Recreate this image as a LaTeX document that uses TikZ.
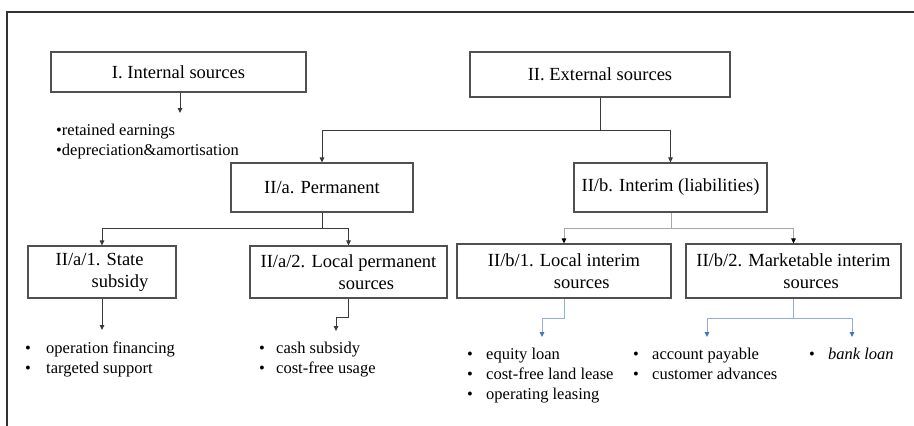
\documentclass[tikz,border=0pt]{standalone}
\usepackage{fontspec}
\setmainfont{Liberation Serif}
\usetikzlibrary{arrows.meta}
\definecolor{frameline}{HTML}{333333}
\definecolor{boxline}{HTML}{505050}
\definecolor{darkline}{HTML}{3A3A3A}
\definecolor{greyline}{HTML}{A8A8A8}
\definecolor{blueline}{HTML}{94ACDA}
\definecolor{bluehead}{HTML}{4472C4}
\newcommand\bulletgap[1]{\makebox[#1][l]{•}}

\begin{document}
\begin{tikzpicture}[x=1pt,y=-1pt,
  box/.style={draw=boxline, line width=1.1pt, inner sep=0pt, align=left,
    font=\fontsize{18.5}{22}\selectfont},
  link/.style={draw=darkline, line width=0.9pt},
  linktip/.style={link, -{Triangle[length=5pt,width=4.5pt]}},
  greylink/.style={draw=greyline, line width=0.9pt},
  greytip/.style={greylink, -{Triangle[length=5pt,width=4.5pt,color=black]}},
  bluelink/.style={draw=blueline, line width=0.9pt},
  bluetip/.style={bluelink, -{Triangle[length=5pt,width=4.5pt,color=bluehead]}},
  listitem/.style={anchor=base west, inner sep=0pt, font=\fontsize{16.5}{20}\selectfont}
]
\useasboundingbox (0,0) rectangle (914,426);

% outer frame (open to the right and bottom)
\draw[frameline, line width=1.6pt] (7,430) -- (7,12) -- (918,12);

% boxes
\node[box, minimum width=255pt, minimum height=40pt] (int) at (178.5,72) {I. Internal sources};
\node[box, minimum width=260pt, minimum height=45pt] (ext) at (600,74.5) {II. External sources};
\node[box, minimum width=182pt, minimum height=49pt] (perm) at (322,187.5) {II/a. Permanent};
\node[box, minimum width=193pt, minimum height=49pt] (interim) at (670.5,187.5) {II/b. Interim (liabilities)};
\node[box, minimum width=148pt, minimum height=52pt] (a1) at (102,272)
  {II/a/1. State\\\hspace*{36pt}subsidy};
\node[box, minimum width=197pt, minimum height=52pt] (a2) at (348.5,272)
  {II/a/2. Local permanent\\\hspace*{78pt}sources};
\node[box, minimum width=214pt, minimum height=54pt] (b1) at (564,271)
  {II/b/1. Local interim\\\hspace*{66pt}sources};
\node[box, minimum width=215pt, minimum height=54pt] (b2) at (793.5,271)
  {II/b/2. Marketable interim\\\hspace*{87pt}sources};

% junctions and free arrow ends
\coordinate (jext) at (600,130);
\coordinate (jperm) at (322,228);
\coordinate (jint) at (671,228);
\coordinate (tipint) at (180,113);
\coordinate (tipa1) at (102,330);
\coordinate (tipa2) at (336,331);
\coordinate (tipb1) at (542,337);
\coordinate (tipb2l) at (707,337);
\coordinate (tipb2r) at (852,337);

% connectors
\draw[linktip] (int.south -| tipint) -- (tipint);
\draw[link] (ext.south) -- (jext);
\draw[linktip] (jext) -| (perm.north);
\draw[linktip] (jext) -| (interim.north);
\draw[link] (perm.south) -- (jperm);
\draw[linktip] (jperm) -| (a1.north);
\draw[linktip] (jperm) -| (a2.north);
\draw[greylink] (interim.south -| jint) -- (jint);
\draw[greytip] (jint) -| (b1.north);
\draw[greytip] (jint) -| (b2.north);
\draw[linktip] (a1.south) -- (tipa1);
\draw[linktip] (a2.south) -- ++(0,19) -| (tipa2);
\draw[bluetip] (b1.south) -- ++(0,20) -| (tipb1);
\draw[bluelink] (b2.south) -- ++(0,20) coordinate (jb2);
\draw[bluetip] (jb2) -| (tipb2l);
\draw[bluetip] (jb2) -| (tipb2r);

% item lists
\node[listitem] (i1) at (56,135) {•retained earnings};
\node[listitem] (i2) at (56,155) {•depreciation\&amortisation};

\node[listitem] (a1x) at (25,353) {\bulletgap{21pt}operation financing};
\node[listitem] (a1y) at (25,373) {\bulletgap{21pt}targeted support};

\node[listitem] (a2x) at (259,353) {\bulletgap{17pt}cash subsidy};
\node[listitem] (a2y) at (259,373) {\bulletgap{17pt}cost-free usage};

\node[listitem] (b1x) at (467,359) {\bulletgap{19pt}equity loan};
\node[listitem] (b1y) at (467,379) {\bulletgap{19pt}cost-free land lease};
\node[listitem] (b1z) at (467,399) {\bulletgap{19pt}operating leasing};

\node[listitem] (b2x) at (633,359) {\bulletgap{19pt}account payable};
\node[listitem] (b2y) at (633,379) {\bulletgap{19pt}customer advances};

\node[listitem] (b2z) at (809,359) {\bulletgap{19pt}\textit{bank loan}};
\end{tikzpicture}
\end{document}
